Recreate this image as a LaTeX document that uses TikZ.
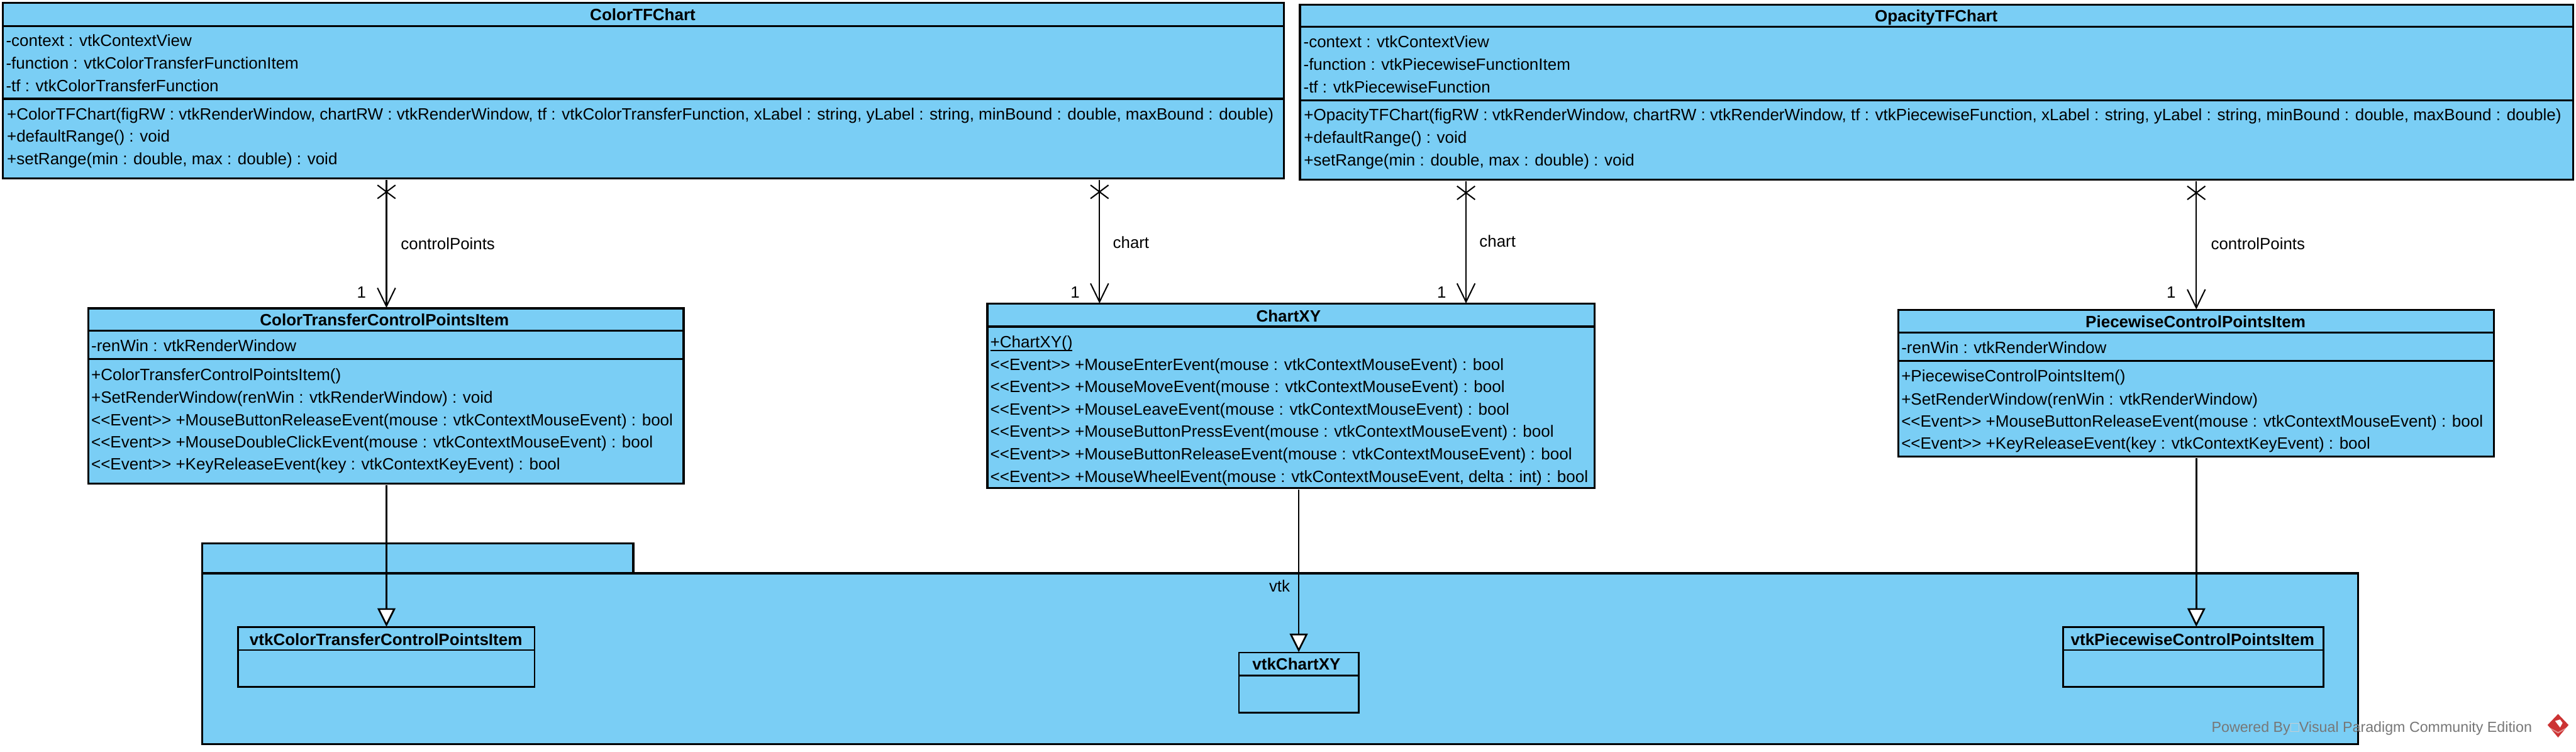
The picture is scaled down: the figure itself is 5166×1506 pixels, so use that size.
\documentclass[tikz,border=0pt]{standalone}
\usepackage{fontspec}
\usetikzlibrary{arrows.meta,calc}
\newfontfamily\umlfont{Liberation Sans}
\definecolor{umlfill}{HTML}{7ACEF5}
\definecolor{wmgray}{HTML}{777777}
\definecolor{wmred}{HTML}{CC3333}
\tikzset{
  x=1pt,y=-1pt,
  umlbox/.style={draw=black,fill=umlfill,line width=4pt,rectangle,anchor=north west,inner sep=0pt,outer sep=0pt},
  innerbox/.style={umlbox,line width=3.4pt},
  sepline/.style={draw=black,line width=4pt},
  rowtext/.style={anchor=base west,inner sep=0pt,outer sep=0pt,text=black,font=\umlfont\fontsize{32.8}{33}\selectfont},
  titletext/.style={anchor=base,inner sep=0pt,outer sep=0pt,text=black,font=\umlfont\bfseries\fontsize{32.8}{33}\selectfont},
  lbltext/.style={anchor=base west,inner sep=0pt,outer sep=0pt,text=black,font=\umlfont\fontsize{32.6}{33}\selectfont},
  assoc/.style={draw=black,line width=2.8pt,-{Straight Barb[length=37pt,width=36pt,line width=2.6pt]},shorten <=3pt,shorten >=1pt},
  xmk/.style={draw=black,line width=2.6pt},
  genl/.style={draw=black,line width=3.2pt,-{Triangle[open,length=37pt,width=36pt,line width=3.4pt,fill=white]},shorten <=3pt,shorten >=1pt},
}
\newcommand{\umlrow}[4]{\node[rowtext] (#1) at (#2,#3) {#4};}
\newcommand{\xmark}[1]{%
  \draw[xmk] ($(#1)+(-18,13)$) -- ($(#1)+(18,40)$);
  \draw[xmk] ($(#1)+(18,13)$) -- ($(#1)+(-18,40)$);}
\begin{document}
\begin{tikzpicture}
\useasboundingbox (0,0) rectangle (5166,1506);
\fill[white] (0,0) rectangle (5166,1506);

% ---------- package vtk
\path[fill=umlfill,draw=black,line width=4pt,line join=miter] (405,1089) -- (1270,1089) -- (1270,1149) -- (4729,1149) -- (4729,1491) -- (405,1491) -- cycle;
\draw[sepline] (405,1149) -- (1270,1149);
\node[anchor=base,inner sep=0pt,text=black,font=\umlfont\fontsize{32.6}{33}\selectfont] (vtkpkg) at (2566,1186) {vtk};

% ---------- ColorTFChart
\node[umlbox,minimum width=2568.5pt,minimum height=352pt] (ctf) at (6,6) {};
\draw[sepline] (6,52) -- (2574.5,52);
\draw[sepline] (6,198) -- (2574.5,198);
\node[titletext] (ctft) at (1289,41) {ColorTFChart};
\umlrow{ctfa}{12}{93}{-context : vtkContextView}
\umlrow{ctfb}{12}{138}{-function : vtkColorTransferFunctionItem}
\umlrow{ctfc}{12}{183}{-tf : vtkColorTransferFunction}
\umlrow{ctfd}{14}{240}{+ColorTFChart(figRW : vtkRenderWindow, chartRW : vtkRenderWindow, tf : vtkColorTransferFunction, xLabel : string, yLabel : string, minBound : double, maxBound : double)}
\umlrow{ctfe}{14}{285}{+defaultRange() : void}
\umlrow{ctff}{14}{330}{+setRange(min : double, max : double) : void}

% ---------- OpacityTFChart
\node[umlbox,minimum width=2553pt,minimum height=351pt] (otf) at (2607,9) {};
\draw[sepline] (2607,54) -- (5160,54);
\draw[sepline] (2607,201.5) -- (5160,201.5);
\node[titletext] (otft) at (3883,43) {OpacityTFChart};
\umlrow{otfa}{2614}{95.5}{-context : vtkContextView}
\umlrow{otfb}{2614}{140.5}{-function : vtkPiecewiseFunctionItem}
\umlrow{otfc}{2614}{185.5}{-tf : vtkPiecewiseFunction}
\umlrow{otfd}{2615}{242}{+OpacityTFChart(figRW : vtkRenderWindow, chartRW : vtkRenderWindow, tf : vtkPiecewiseFunction, xLabel : string, yLabel : string, minBound : double, maxBound : double)}
\umlrow{otfe}{2615}{287}{+defaultRange() : void}
\umlrow{otff}{2615}{332}{+setRange(min : double, max : double) : void}

% ---------- ColorTransferControlPointsItem
\node[umlbox,minimum width=1194pt,minimum height=351pt] (cti) at (177,618) {};
\draw[sepline] (177,663) -- (1371,663);
\draw[sepline] (177,720) -- (1371,720);
\node[titletext] (ctit) at (771,653) {ColorTransferControlPointsItem};
\umlrow{ctia}{183}{704}{-renWin : vtkRenderWindow}
\umlrow{ctib}{183}{763}{+ColorTransferControlPointsItem()}
\umlrow{ctic}{183}{808}{+SetRenderWindow(renWin : vtkRenderWindow) : void}
\umlrow{ctid}{183}{853}{<<Event>> +MouseButtonReleaseEvent(mouse : vtkContextMouseEvent) : bool}
\umlrow{ctie}{183}{897}{<<Event>> +MouseDoubleClickEvent(mouse : vtkContextMouseEvent) : bool}
\umlrow{ctif}{183}{942}{<<Event>> +KeyReleaseEvent(key : vtkContextKeyEvent) : bool}

% ---------- ChartXY
\node[umlbox,minimum width=1218pt,minimum height=369.5pt] (cxy) at (1980,609) {};
\draw[sepline] (1980,654.5) -- (3198,654.5);
\node[titletext] (cxyt) at (2584,645) {ChartXY};
\umlrow{cxya}{1986}{697}{+ChartXY()}
\draw[line width=2.6pt,draw=black] ($(cxya.base west)+(0,5.5)$) -- ($(cxya.base east)+(0,5.5)$);
\umlrow{cxyb}{1986}{742}{<<Event>> +MouseEnterEvent(mouse : vtkContextMouseEvent) : bool}
\umlrow{cxyc}{1986}{786.5}{<<Event>> +MouseMoveEvent(mouse : vtkContextMouseEvent) : bool}
\umlrow{cxyd}{1986}{831.5}{<<Event>> +MouseLeaveEvent(mouse : vtkContextMouseEvent) : bool}
\umlrow{cxye}{1986}{876.5}{<<Event>> +MouseButtonPressEvent(mouse : vtkContextMouseEvent) : bool}
\umlrow{cxyf}{1986}{921.5}{<<Event>> +MouseButtonReleaseEvent(mouse : vtkContextMouseEvent) : bool}
\umlrow{cxyg}{1986}{966.5}{<<Event>> +MouseWheelEvent(mouse : vtkContextMouseEvent, delta : int) : bool}

% ---------- PiecewiseControlPointsItem
\node[umlbox,minimum width=1194pt,minimum height=294pt] (pci) at (3807,621) {};
\draw[sepline] (3807,667) -- (5001,667);
\draw[sepline] (3807,723) -- (5001,723);
\node[titletext] (pcit) at (4403,656) {PiecewiseControlPointsItem};
\umlrow{pcia}{3813}{708}{-renWin : vtkRenderWindow}
\umlrow{pcib}{3813}{765}{+PiecewiseControlPointsItem()}
\umlrow{pcic}{3813}{811}{+SetRenderWindow(renWin : vtkRenderWindow)}
\umlrow{pcid}{3813}{855.5}{<<Event>> +MouseButtonReleaseEvent(mouse : vtkContextMouseEvent) : bool}
\umlrow{pcie}{3813}{900.5}{<<Event>> +KeyReleaseEvent(key : vtkContextKeyEvent) : bool}

% ---------- inner classes
\node[innerbox,minimum width=594.5pt,minimum height=120pt] (vcc) at (477.5,1257) {};
\draw[sepline,line width=3.4pt] (477.5,1303) -- (1072,1303);
\node[titletext] (vcct) at (774,1293) {vtkColorTransferControlPointsItem};
\node[innerbox,minimum width=240.5pt,minimum height=120pt] (vcx) at (2484.5,1308) {};
\draw[sepline,line width=3.4pt] (2484.5,1353.5) -- (2725,1353.5);
\node[titletext] (vcxt) at (2600,1343) {vtkChartXY};
\node[innerbox,minimum width=522pt,minimum height=120pt] (vpc) at (4137.5,1257) {};
\draw[sepline,line width=3.4pt] (4137.5,1303) -- (4659.5,1303);
\node[titletext] (vpct) at (4397,1293) {vtkPiecewiseControlPointsItem};

% ---------- connectors
\coordinate (xa) at (775,0);
\coordinate (xb) at (2205,0);
\coordinate (xc) at (2940,0);
\coordinate (xd) at (4404.5,0);
\coordinate (xe) at (2604.5,0);

\draw[assoc] (ctf.south -| xa) -- (cti.north -| xa);
\xmark{ctf.south -| xa}
\draw[assoc] (ctf.south -| xb) -- (cxy.north -| xb);
\xmark{ctf.south -| xb}
\draw[assoc] (otf.south -| xc) -- (cxy.north -| xc);
\xmark{otf.south -| xc}
\draw[assoc] (otf.south -| xd) -- (pci.north -| xd);
\xmark{otf.south -| xd}

\draw[genl] (cti.south -| xa) -- (vcc.north -| xa);
\draw[genl] (cxy.south -| xe) -- (vcx.north -| xe);
\draw[genl] (pci.south -| xd) -- (vpc.north -| xd);

% ---------- connector labels
\node[lbltext] (l1) at (804,500) {controlPoints};
\node[lbltext] (l2) at (2232,498) {chart};
\node[lbltext] (l3) at (2967,495) {chart};
\node[lbltext] (l4) at (4434,500) {controlPoints};
\node[lbltext] (m1) at (716,597) {1};
\node[lbltext] (m2) at (2147,597) {1};
\node[lbltext] (m3) at (2882,597) {1};
\node[lbltext] (m4) at (4345,597) {1};

% ---------- watermark
\node[anchor=base west,inner sep=0pt,text=wmgray,font=\umlfont\fontsize{29.3}{30}\selectfont] (wm) at (4435,1468) {Powered By\textcolor{wmgray!35}{□}Visual Paradigm Community Edition};
\fill[wmred] (5130,1431) -- (5151,1453) -- (5130,1478) -- (5109,1453) -- cycle;
\fill[white] (5124,1445) -- (5134,1442) -- (5139,1449) -- (5134,1458) -- cycle;
\fill[white,opacity=.45] (5113,1458) -- (5130,1467) -- (5147,1458) -- (5147,1460) -- (5130,1470) -- (5113,1460) -- cycle;
\end{tikzpicture}
\end{document}
